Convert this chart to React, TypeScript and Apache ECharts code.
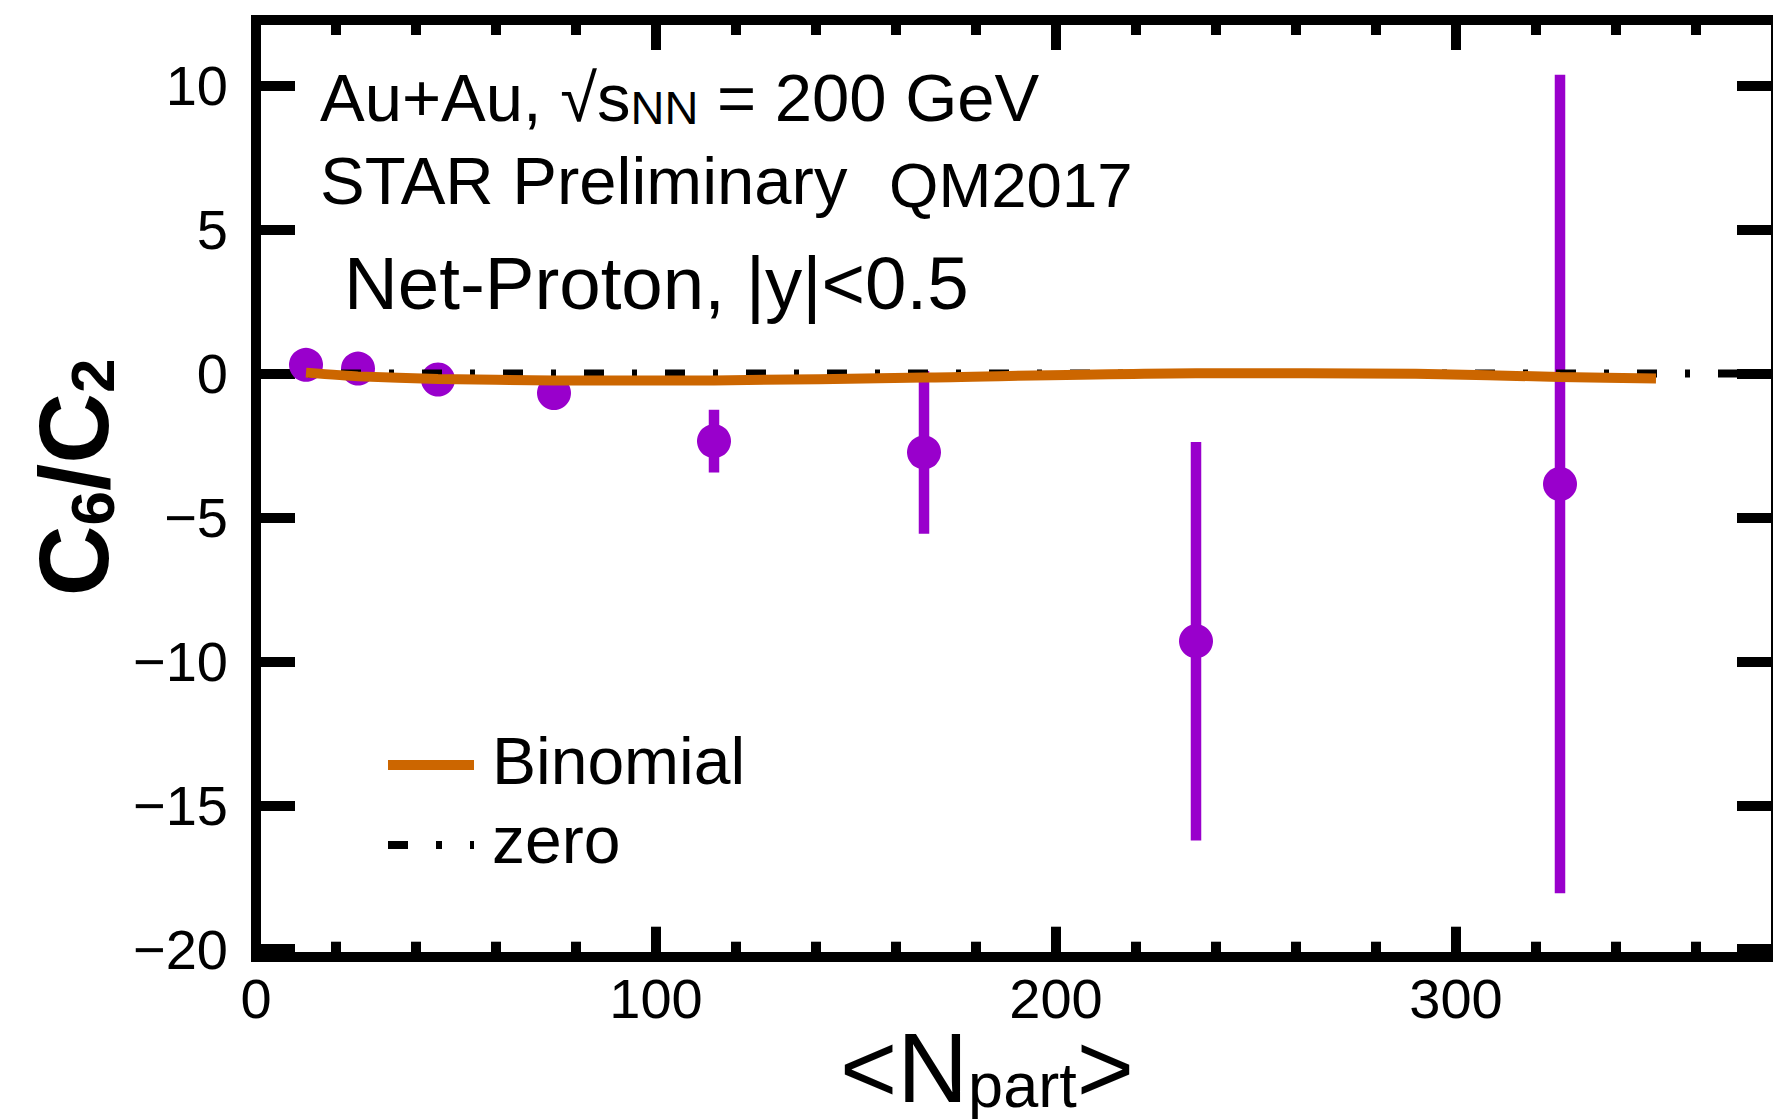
import React, { useEffect, useRef } from "react";
import * as echarts from "echarts";

// Net-proton C6/C2 versus centrality (mean number of participants)
const npart = [12.5, 25.5, 45.5, 74.5, 114.5, 167, 235, 326];
const c6c2 = [0.3, 0.17, -0.21, -0.68, -2.35, -2.74, -9.3, -3.84];
const c6c2Err = [0.12, 0.2, 0.3, 0.5, 1.09, 2.83, 6.92, 14.22];

// Binomial baseline
const binomNpart = [12.5, 25.5, 45.5, 74.5, 114.5, 167, 235, 290, 326, 350];
const binomC6C2 = [0.03, -0.1, -0.19, -0.24, -0.24, -0.14, 0.01, -0.01, -0.12, -0.17];

// zero reference line
const zeroNpart = [0, 380];

// axis ticks
const xMajor = [0, 100, 200, 300];
const xMinor = [20, 40, 60, 80, 120, 140, 160, 180, 220, 240, 260, 280, 320, 340, 360];
const yMajor = [-20, -15, -10, -5, 0, 5, 10];

const FONT = "'Liberation Sans', Arial, Helvetica, sans-serif";
const PURPLE = "#9900cc";
const ORANGE = "#cc6600";
const BLACK = "#000000";

// line height of a subscript rich token whose baseline drops `drop` px below the main baseline
function subLH(main: number, sub: number, drop: number) {
  return 2 * (0.1535 * main + 0.3465 * sub - drop);
}
// y coordinate (middle-aligned) for text whose baseline should sit at `baseline`
function midY(baseline: number, fs: number) {
  return baseline - 0.3465 * fs;
}

function minusFmt(v: number) {
  return v < 0 ? "\u2212" + Math.abs(v) : String(v);
}

const frameLine = { show: true, onZero: false, lineStyle: { color: BLACK, width: 10, cap: "square" } };
const noLine = { show: false, onZero: false };

function tick(values: number[], length: number) {
  return { show: true, inside: true, length, customValues: values, lineStyle: { color: BLACK, width: 10 } };
}

export default function App() {
  const ref = useRef<HTMLDivElement>(null);

  useEffect(() => {
    const chart = echarts.init(ref.current!, null, { renderer: "svg" });

    const xBase = { type: "value", min: 0, max: 380, splitLine: { show: false }, gridIndex: 0 };
    const yBase = { type: "value", min: -20.26, max: 12.28, splitLine: { show: false }, gridIndex: 0 };

    const option: any = {
      animation: false,
      backgroundColor: "#ffffff",
      grid: { left: 256, top: 20, width: 1520, height: 936.7, containLabel: false, outerBoundsMode: "none" },
      xAxis: [
        {
          ...xBase,
          position: "bottom",
          axisLine: frameLine,
          axisTick: tick(xMajor, 30),
          axisLabel: {
            show: true,
            customValues: xMajor,
            margin: 14,
            color: BLACK,
            fontSize: 56,
            fontFamily: FONT,
            formatter: (v: number) => minusFmt(v),
          },
          name: "{m|<N}{s|part}{m|>}",
          nameLocation: "middle",
          nameGap: 62,
          nameMoveOverlap: false,
          nameTextStyle: {
            padding: [0, 58, 0, 0],
            rich: {
              m: { fontSize: 98, lineHeight: 98, fontFamily: FONT, color: BLACK, verticalAlign: "bottom" },
              s: { fontSize: 63, lineHeight: subLH(98, 63, 8), fontFamily: FONT, color: BLACK, verticalAlign: "bottom" },
            },
          },
        },
        { ...xBase, position: "bottom", axisLine: noLine, axisTick: tick(xMinor, 15), axisLabel: { show: false } },
        { ...xBase, position: "top", axisLine: frameLine, axisTick: tick(xMajor, 30), axisLabel: { show: false } },
        { ...xBase, position: "top", axisLine: noLine, axisTick: tick(xMinor, 15), axisLabel: { show: false } },
      ],
      yAxis: [
        {
          ...yBase,
          position: "left",
          axisLine: frameLine,
          axisTick: tick(yMajor, 39),
          axisLabel: {
            show: true,
            customValues: yMajor,
            margin: 28,
            color: BLACK,
            fontSize: 56,
            fontFamily: FONT,
            formatter: (v: number) => minusFmt(v),
          },
          name: "{m|C}{s|6}{m|/C}{s|2}",
          nameLocation: "middle",
          nameGap: 133,
          nameMoveOverlap: false,
          nameTextStyle: {
            padding: [0, 0, 0, 22],
            rich: {
              m: { fontSize: 98, lineHeight: 98, fontWeight: "bold", fontFamily: FONT, color: BLACK, verticalAlign: "bottom" },
              s: { fontSize: 62, lineHeight: subLH(98, 62, 5), fontWeight: "bold", fontFamily: FONT, color: BLACK, verticalAlign: "bottom" },
            },
          },
        },
        { ...yBase, position: "right", axisLine: frameLine, axisTick: tick(yMajor, 39), axisLabel: { show: false } },
      ],
      series: [
        {
          name: "data",
          type: "custom",
          xAxisIndex: 0,
          yAxisIndex: 0,
          z: 2,
          data: npart.map((x, i) => [x, c6c2[i] - c6c2Err[i], c6c2[i] + c6c2Err[i]]),
          encode: { x: 0, y: [1, 2] },
          renderItem: (_params: any, api: any) => {
            const lo = api.coord([api.value(0), api.value(1)]);
            const hi = api.coord([api.value(0), api.value(2)]);
            return {
              type: "line",
              shape: { x1: lo[0], y1: lo[1], x2: hi[0], y2: hi[1] },
              style: { stroke: PURPLE, lineWidth: 10.5, lineCap: "butt" },
            };
          },
        },
        {
          name: "C6/C2",
          type: "scatter",
          xAxisIndex: 0,
          yAxisIndex: 0,
          z: 2,
          symbol: "circle",
          symbolSize: 34,
          itemStyle: { color: PURPLE, opacity: 1 },
          data: npart.map((x, i) => [x, c6c2[i]]),
        },
        {
          name: "zero",
          type: "line",
          xAxisIndex: 0,
          yAxisIndex: 0,
          z: 3,
          symbol: "none",
          lineStyle: { color: BLACK, width: 8, type: [20, 28, 5, 28], dashOffset: -4, cap: "butt" },
          data: zeroNpart.map((x) => [x, 0]),
        },
        {
          name: "Binomial",
          type: "line",
          xAxisIndex: 0,
          yAxisIndex: 0,
          z: 4,
          symbol: "none",
          smooth: 0.2,
          lineStyle: { color: ORANGE, width: 10 },
          data: binomNpart.map((x, i) => [x, binomC6C2[i]]),
        },
      ],
      graphic: [
        {
          type: "text",
          x: 320,
          y: midY(121, 67),
          z: 10,
          style: {
            text: "{m|Au+Au, \u221As}{s|NN}{m| = 200 GeV}",
            fill: BLACK,
            verticalAlign: "middle",
            textVerticalAlign: "middle",
            rich: {
              m: { fontSize: 67, lineHeight: 67, fontFamily: FONT, fill: BLACK, verticalAlign: "bottom" },
              s: { fontSize: 47, lineHeight: subLH(67, 47, 9), fontFamily: FONT, fill: BLACK, verticalAlign: "bottom" },
            },
          },
        },
        {
          type: "text",
          x: 320,
          y: midY(204, 67),
          z: 10,
          style: { text: "STAR Preliminary", fontSize: 67, fontFamily: FONT, fill: BLACK, verticalAlign: "middle", textVerticalAlign: "middle" },
        },
        {
          type: "text",
          x: 889,
          y: midY(207, 63.5),
          z: 10,
          style: { text: "QM2017", fontSize: 63.5, fontFamily: FONT, fill: BLACK, verticalAlign: "middle", textVerticalAlign: "middle" },
        },
        {
          type: "text",
          x: 344,
          y: midY(309, 74.5),
          z: 10,
          style: { text: "Net-Proton, |y|<0.5", fontSize: 74.5, fontFamily: FONT, fill: BLACK, verticalAlign: "middle", textVerticalAlign: "middle" },
        },
        // legend
        {
          type: "line",
          z: 10,
          shape: { x1: 388, y1: 765, x2: 474, y2: 765 },
          style: { stroke: ORANGE, lineWidth: 10 },
        },
        {
          type: "text",
          x: 492,
          y: midY(783.5, 66),
          z: 10,
          style: { text: "Binomial", fontSize: 66, fontFamily: FONT, fill: BLACK, verticalAlign: "middle", textVerticalAlign: "middle" },
        },
        {
          type: "line",
          z: 10,
          shape: { x1: 388, y1: 845, x2: 474, y2: 845 },
          style: { stroke: BLACK, lineWidth: 8, lineDash: [20, 28, 6, 28] },
        },
        {
          type: "text",
          x: 492,
          y: midY(863, 66),
          z: 10,
          style: { text: "zero", fontSize: 66, fontFamily: FONT, fill: BLACK, verticalAlign: "middle", textVerticalAlign: "middle" },
        },
      ],
    };

    chart.setOption(option);
    return () => chart.dispose();
  }, []);

  return (
    <div
      ref={ref}
      style={{ position: "fixed", left: 0, top: 0, width: 1773, height: 1119, background: "#ffffff" }}
    />
  );
}
